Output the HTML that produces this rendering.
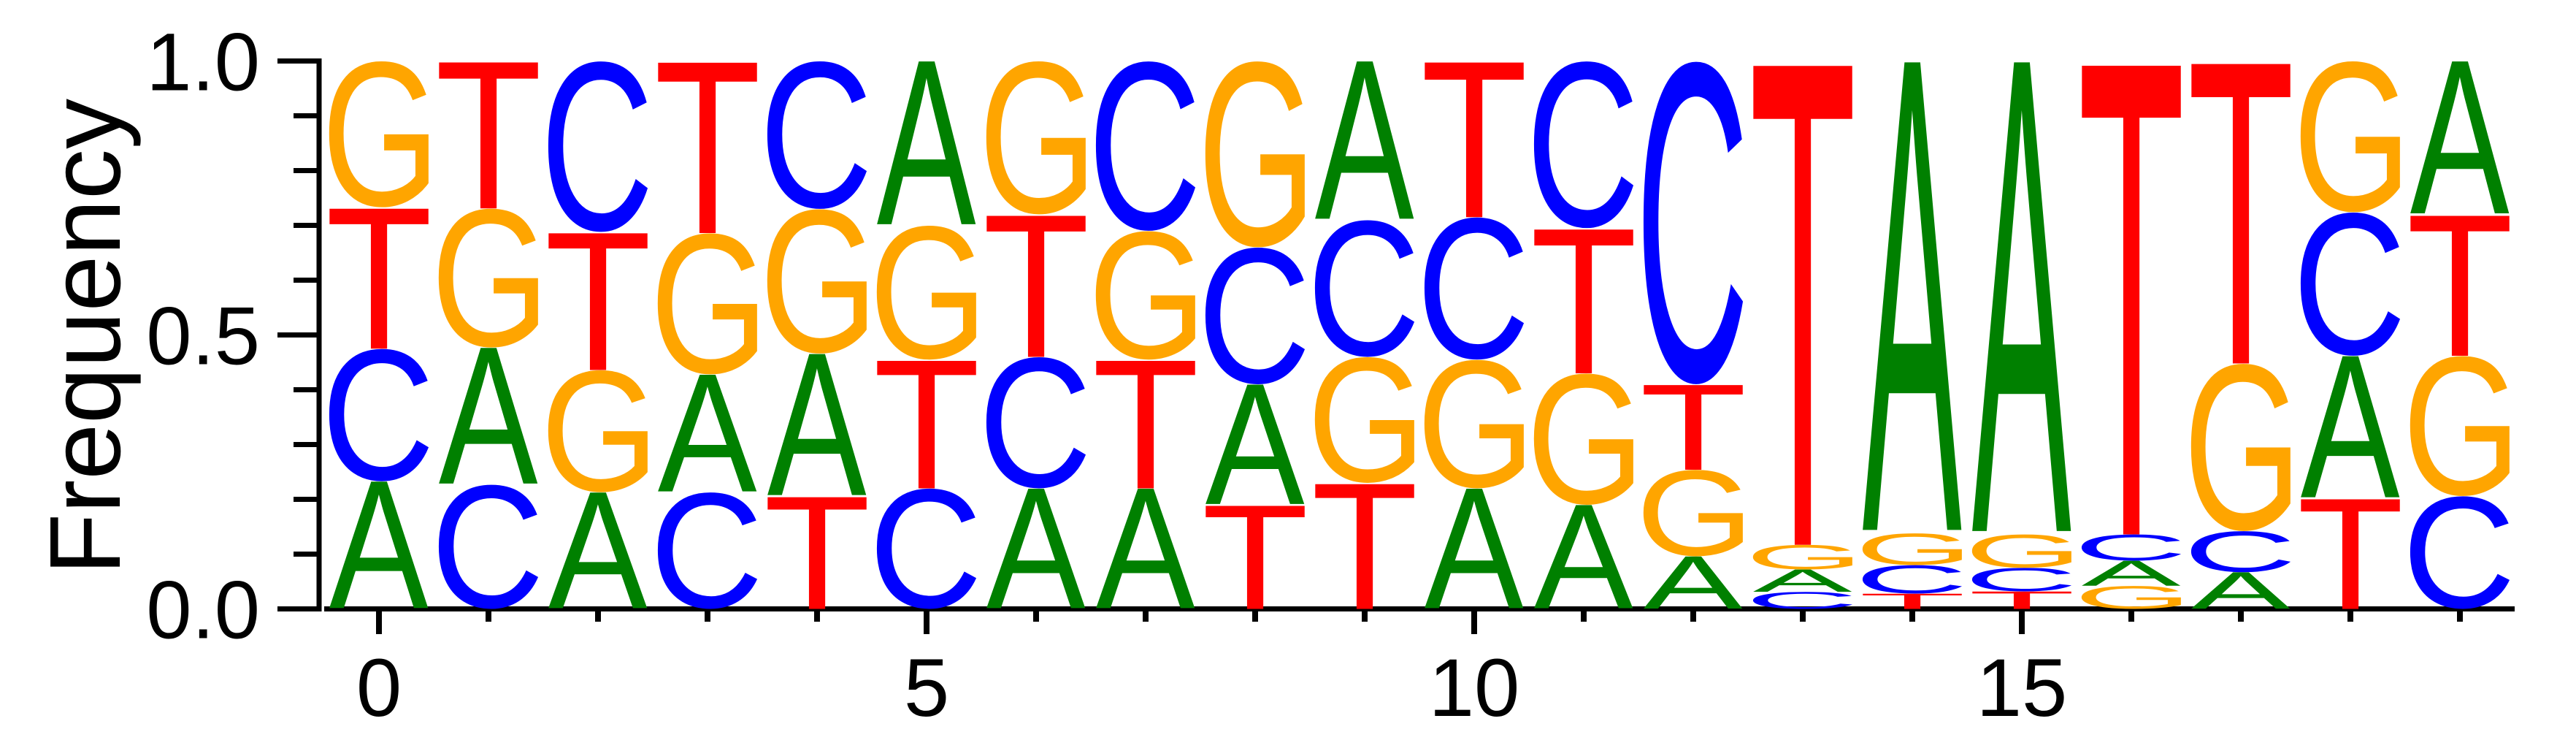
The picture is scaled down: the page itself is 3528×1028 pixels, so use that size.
<!DOCTYPE html>
<html><head><meta charset="utf-8"><style>
html,body{margin:0;padding:0;background:#fff;}
svg{display:block;}
</style></head><body>
<svg id="chart" width="3528" height="1028" viewBox="0 0 3528 1028" xmlns="http://www.w3.org/2000/svg" font-family="'Liberation Sans', Arial, sans-serif">
<g id="axes"></g>
<g id="letters"></g>
<text x="0" y="0" transform="translate(164,461) rotate(-90)" text-anchor="middle" font-size="138" fill="#000">Frequency</text>
</svg>
<script>
// bottom-to-top stacks per position: letters and heights
const positions = [0,1,2,3,4,5,6,7,8,9,10,11,12,13,14,15,16,17,18,19];
const stackLetters = [
 "ACTG","CAGT","AGTC","CAGT","TAGC","CTGA","ACTG","ATGC","TACG","TGCA",
 "AGCT","AGTC","AGTC","CAGT","TCGA","TCGA","GACT","ACGT","TACG","CGTA"
];
const stackValues = [
 [0.233,0.242,0.258,0.267],[0.227,0.25,0.254,0.269],[0.213,0.223,0.252,0.312],[0.213,0.215,0.258,0.314],
 [0.206,0.26,0.264,0.27],[0.22,0.235,0.245,0.30],[0.22,0.24,0.26,0.28],[0.22,0.235,0.235,0.31],
 [0.19,0.22,0.25,0.34],[0.23,0.23,0.25,0.29],[0.22,0.235,0.26,0.285],[0.19,0.24,0.265,0.305],
 [0.096,0.158,0.156,0.59],[0.031,0.041,0.045,0.883],[0.028,0.052,0.058,0.862],[0.032,0.043,0.061,0.864],
 [0.042,0.046,0.048,0.864],[0.067,0.075,0.306,0.552],[0.202,0.26,0.262,0.276],[0.206,0.256,0.258,0.28]
];
const yTickLabels = ["0.0","0.5","1.0"];
const yTickValues = [0,0.5,1];
const xTickLabels = ["0","5","10","15"];
const xTickValues = [0,5,10,15];

const colors = {A:"#008000",C:"#0000ff",G:"#ffa500",T:"#ff0000"};
const NS = "http://www.w3.org/2000/svg";
const xScale = v => 519 + v*150;
const yScale = v => 833.5 - v*750;
const axes = document.getElementById('axes');
const lettersG = document.getElementById('letters');
function mk(tag, attrs, parent){const e=document.createElementNS(NS,tag);for(const k in attrs)e.setAttribute(k,attrs[k]);parent.appendChild(e);return e;}

// spines
let sp = mk('line',{x1:437,y1:80,x2:437,y2:837,stroke:'#000','stroke-width':7},axes);


let bx = mk('line',{x1:444,y1:833.5,x2:3444,y2:833.5,stroke:'#000','stroke-width':7},axes);


// y ticks
for(let i=0;i<=10;i++){
  const v=i/10, major=(i%5===0);
  const t=mk('line',{x1:major?380:402,y1:yScale(v),x2:437,y2:yScale(v),stroke:'#000','stroke-width':7},axes);
  
  
}
yTickValues.forEach((v,i)=>{
  const t=mk('text',{x:356,y:yScale(v)+40,'text-anchor':'end','font-size':112,fill:'#000'},axes);
  t.textContent=yTickLabels[i];
  
  
});
// x ticks
positions.forEach(p=>{
  const major = xTickValues.indexOf(p)>=0;
  const t=mk('line',{x1:xScale(p),y1:837,x2:xScale(p),y2:major?868:851,stroke:'#000','stroke-width':8},axes);
  
  
});
xTickValues.forEach((v,i)=>{
  const t=mk('text',{x:xScale(v),y:980,'text-anchor':'middle','font-size':112,fill:'#000'},axes);
  t.textContent=xTickLabels[i];
  
  
});

// glyph ink metrics
const cv=document.createElement('canvas');const ctx=cv.getContext('2d');
ctx.font="200px 'Liberation Sans', Arial, sans-serif";
const metrics={};
"ACGT".split('').forEach(ch=>{const m=ctx.measureText(ch);
  metrics[ch]={l:m.actualBoundingBoxLeft,r:m.actualBoundingBoxRight,a:m.actualBoundingBoxAscent,d:m.actualBoundingBoxDescent};});

const halfW = 0.455;
positions.forEach((p,pi)=>{
  let base=0;
  stackLetters[pi].split('').forEach((ch,li)=>{
    const h=stackValues[pi][li];
    const x0=xScale(p-halfW), x1=xScale(p+halfW);
    const yTop=yScale(base+h), yBot=yScale(base);
    const m=metrics[ch];
    const gw=m.l+m.r, gh=m.a+m.d;
    const sx=(x1-x0)/gw, sy=(yBot-yTop)/gh;
    const t=mk('text',{x:0,y:0,'font-size':200,fill:colors[ch],
      transform:`translate(${x0},${yTop}) scale(${sx},${sy}) translate(${m.l},${m.a})`},lettersG);
    t.textContent=ch;
    
    
    base+=h;
  });
});
</script>
</body></html>
